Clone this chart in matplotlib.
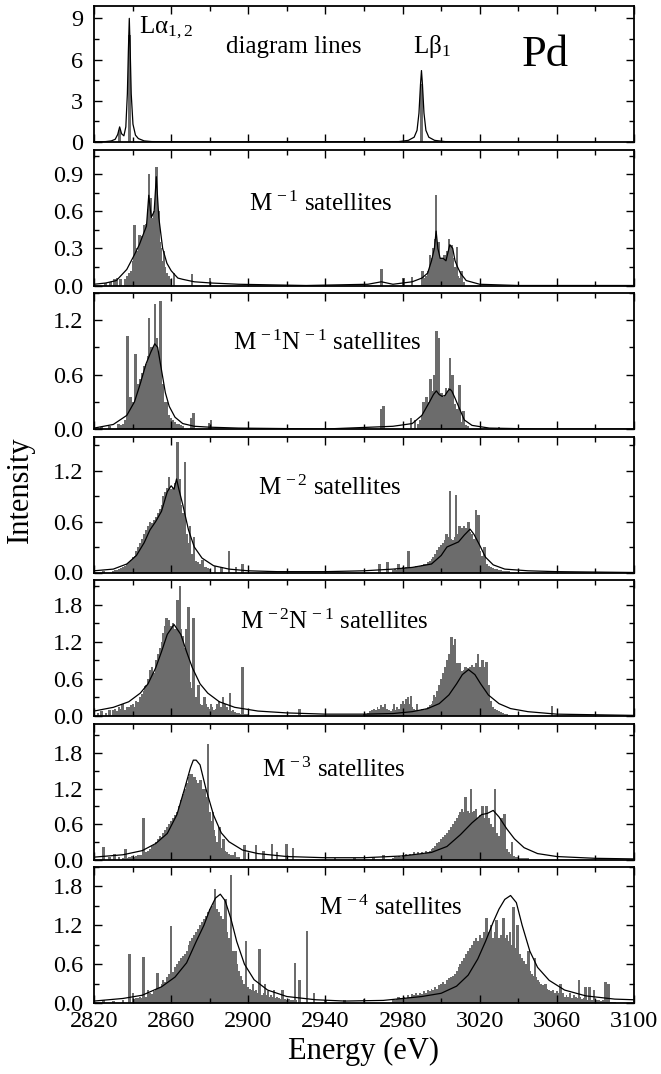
import numpy as np
import matplotlib
matplotlib.use("Agg")
import matplotlib.pyplot as plt
from matplotlib.ticker import MultipleLocator, FormatStrFormatter

plt.rcParams['font.family'] = ['Liberation Serif', 'DejaVu Serif']
plt.rcParams['mathtext.fontset'] = 'custom'
plt.rcParams['mathtext.rm'] = 'Liberation Serif'
plt.rcParams['mathtext.it'] = 'Liberation Serif:italic'

# ---------------- data (energies in eV, intensities arb. units) ----------------
labels = ["Lα$_{1,2}$", r"M$^{\,-1}$ satellites", r"M$^{\,-1}$N$^{\,-1}$ satellites",
          r"M$^{\,-2}$ satellites", r"M$^{\,-2}$N$^{\,-1}$ satellites",
          r"M$^{\,-3}$ satellites", r"M$^{\,-4}$ satellites"]
ylims = [9.9, 1.1, 1.5, 1.6, 2.2, 2.3, 2.1]
ymajor = [3, 0.3, 0.6, 0.6, 0.6, 0.6, 0.6]
xticks_major = [2820, 2860, 2900, 2940, 2980, 3020, 3060, 3100]
xticks_minor = [2840, 2880, 2920, 2960, 3000, 3040, 3080]

# panel 1: diagram lines
p1_stick_e = [2833.3, 2838.3, 2989.8]
p1_stick_h = [0.9, 7.8, 4.2]
p1_env_e = [2820, 2826, 2829, 2831, 2832.3, 2833.3, 2834.3, 2835.5, 2836.5, 2837.3, 2837.8,
            2838.3, 2838.8, 2839.3, 2840.2, 2841.5, 2843, 2846, 2850, 2870, 2978, 2983,
            2986, 2987.5, 2988.5, 2989.3, 2989.8, 2990.3, 2991.1, 2992.1, 2993.6, 2996.6,
            3002, 3020]
p1_env_h = [0.01, 0.03, 0.08, 0.2, 0.55, 1.1, 0.6, 0.45, 1.1, 3.5, 6.5,
            9.0, 6.5, 3.5, 1.3, 0.5, 0.25, 0.08, 0.03, 0.0, 0.03, 0.12,
            0.35, 0.85, 2.1, 4.2, 5.2, 4.2, 2.1, 0.85, 0.35, 0.12,
            0.03, 0.0]

# panel 2: M-1
p2_stick_e = [2826, 2828.5, 2830.5, 2832, 2833.7, 2841, 2843.6, 2846.2, 2848.4, 2849.5,
              2852.3, 2853.4, 2856.2, 2861.5, 2870.8, 2880.2, 2969, 2980.6, 2985, 2990.4,
              2994.1, 2995.9, 2997.4, 2998.5, 3000.2, 3001.8, 3004, 3005.5, 3008.3, 3010.5]
p2_stick_h = [0.02, 0.03, 0.05, 0.06, 0.05, 0.49, 0.41, 0.49, 0.9, 0.71,
              0.96, 0.6, 0.28, 0.1, 0.09, 0.06, 0.13, 0.06, 0.07, 0.12,
              0.25, 0.3, 0.73, 0.35, 0.22, 0.25, 0.38, 0.33, 0.31, 0.12]
p2_dense_l0 = 2836
p2_dense_l = [0.05, 0.08, 0.1, 0.12, 0.2, 0.22, 0.3, 0.28, 0.38, 0.4, 0.45, 0.5, 0.62, 0.5,
              0.55, 0.6, 0.7, 0.5, 0.35, 0.3, 0.2, 0.15, 0.1, 0.08, 0.05]
p2_dense_r0 = 2990
p2_dense_r = [0.04, 0.06, 0.08, 0.12, 0.18, 0.22, 0.3, 0.38, 0.28, 0.2, 0.18, 0.2, 0.22,
              0.28, 0.3, 0.27, 0.22, 0.15, 0.12, 0.08, 0.06, 0.04, 0.03]
p2_env_e = [2820, 2826, 2831.6, 2837, 2841, 2843.5, 2845.7, 2847.2, 2848.4, 2849.7, 2851.2,
            2852.3, 2853.6, 2855.6, 2857.8, 2860, 2861.7, 2863.5, 2866, 2872, 2881, 2895,
            2930, 2962, 2969, 2975, 2985, 2990, 2993, 2995, 2996.5, 2997.4, 2998.3, 2999.5,
            3001, 3002.5, 3004.5, 3006, 3007.2, 3008.5, 3010, 3013, 3020, 3040, 3100]
p2_env_h = [0.01, 0.02, 0.04, 0.13, 0.25, 0.33, 0.42, 0.48, 0.73, 0.55, 0.6,
            0.88, 0.55, 0.3, 0.18, 0.12, 0.09, 0.06, 0.05, 0.03, 0.02, 0.01,
            0.0, 0.01, 0.03, 0.01, 0.03, 0.06, 0.1, 0.2, 0.3, 0.44, 0.3, 0.22,
            0.22, 0.2, 0.33, 0.3, 0.2, 0.15, 0.1, 0.04, 0.01, 0.0, 0.0]

# panel 3: M-1 N-1
p3_stick_e = [2824, 2828, 2832.7, 2837.5, 2838.8, 2841.4, 2843.1, 2848.4, 2849.7, 2851.6,
              2852.7, 2854.5, 2855.6, 2857.8, 2861, 2870.5, 2871.5, 2879.7, 2880.7, 2969,
              2970.1, 2984.3, 2986.5, 2990.9, 2992.4, 2994.6, 2996.3, 2997.6, 2998.5, 3000.2,
              3002.4, 3004.6, 3005.9, 3009.4, 3011.6, 3030]
p3_stick_h = [0.02, 0.03, 0.05, 1.03, 0.35, 0.83, 0.3, 1.22, 0.9, 1.38,
              1.0, 1.41, 0.5, 0.3, 0.1, 0.12, 0.18, 0.07, 0.1, 0.22,
              0.25, 0.12, 0.1, 0.3, 0.35, 0.55, 0.6, 1.08, 1.0, 0.4,
              0.45, 0.78, 0.6, 0.48, 0.2, 0.02]
p3_dense_l0 = 2834
p3_dense_l = [0.04, 0.06, 0.1, 0.14, 0.2, 0.25, 0.3, 0.35, 0.4, 0.5, 0.55, 0.62, 0.7, 0.72,
              0.8, 0.85, 0.88, 0.92, 0.9, 0.85, 0.7, 0.55, 0.4, 0.3, 0.22, 0.15, 0.12, 0.1,
              0.08, 0.06, 0.05, 0.04, 0.03]
p3_dense_r0 = 2988
p3_dense_r = [0.06, 0.1, 0.15, 0.2, 0.25, 0.3, 0.35, 0.38, 0.42, 0.45, 0.4, 0.35, 0.32,
              0.35, 0.38, 0.42, 0.45, 0.4, 0.35, 0.28, 0.22, 0.18, 0.12, 0.08, 0.06, 0.04,
              0.03]
p3_env_e = [2820, 2830, 2837, 2841, 2844, 2847, 2849.5, 2851.5, 2853, 2855, 2857, 2859, 2862,
            2866, 2872, 2880, 2895, 2940, 2975, 2985, 2990, 2994, 2996, 2997.5, 2999, 3000.5,
            3002, 3003.5, 3004.5, 3005.5, 3007, 3009, 3012, 3016, 3025, 3050, 3100]
p3_env_h = [0.01, 0.05, 0.15, 0.3, 0.5, 0.72, 0.85, 0.94, 0.9, 0.65, 0.4, 0.25, 0.13,
            0.06, 0.03, 0.02, 0.01, 0.0, 0.03, 0.06, 0.15, 0.3, 0.38, 0.42, 0.38, 0.36,
            0.37, 0.42, 0.44, 0.42, 0.35, 0.25, 0.1, 0.04, 0.01, 0.0, 0.0]

# panel 4: M-2
p4_stick_e = [2825, 2835, 2846.8, 2849.7, 2852.7, 2858.8, 2861.5, 2863.2, 2864.3, 2867.1,
              2869.7, 2871.9, 2876.3, 2882.8, 2886, 2890, 2893.7, 2897, 2968, 2972.3,
              2977.8, 2983.2, 2987.6, 3002.9, 3004.6, 3007.7, 3009.4, 3014.2, 3018.1, 3019.4,
              3022.5]
p4_stick_h = [0.02, 0.05, 0.3, 0.47, 0.6, 1.12, 1.0, 1.53, 1.1, 1.3,
              0.55, 0.42, 0.15, 0.08, 0.06, 0.25, 0.07, 0.1, 0.1, 0.12,
              0.1, 0.25, 0.05, 0.45, 0.96, 0.91, 0.55, 0.6, 0.73, 0.68,
              0.3]
p4_dense_l0 = 2830
p4_dense_l = [0.02, 0.03, 0.03, 0.04, 0.05, 0.06, 0.08, 0.1, 0.12, 0.15, 0.18, 0.2, 0.25,
              0.3, 0.35, 0.4, 0.45, 0.5, 0.55, 0.6, 0.58, 0.62, 0.65, 0.7, 0.75, 0.8, 0.9,
              0.95, 1.0, 1.02, 0.98, 1.0, 1.05, 0.95, 0.9, 0.8, 0.7, 0.55, 0.45, 0.35, 0.28,
              0.22, 0.18, 0.14, 0.12, 0.1, 0.08, 0.07, 0.06, 0.05, 0.04]
p4_dense_r0 = 2975
p4_dense_r = [0.03, 0.04, 0.03, 0.05, 0.04, 0.06, 0.05, 0.07, 0.06, 0.05, 0.07, 0.06, 0.08,
              0.07, 0.08, 0.09, 0.1, 0.1, 0.12, 0.14, 0.16, 0.18, 0.22, 0.26, 0.3, 0.32,
              0.35, 0.38, 0.4, 0.42, 0.4, 0.38, 0.42, 0.45, 0.48, 0.5, 0.52, 0.55, 0.52,
              0.5, 0.48, 0.45, 0.4, 0.35, 0.3, 0.25, 0.2, 0.16, 0.12, 0.1, 0.08, 0.06, 0.05,
              0.04, 0.04, 0.03, 0.03, 0.02, 0.02, 0.02, 0.02]
p4_env_e = [2820, 2830, 2837, 2842, 2846, 2849, 2852, 2855, 2858, 2860, 2861.5, 2862.8, 2864,
            2866, 2869, 2872, 2876, 2882, 2890, 2900, 2915, 2940, 2960, 2975, 2985, 2995,
            3000, 3003, 3006, 3009, 3012, 3015, 3017, 3020, 3023, 3027, 3033, 3045, 3060,
            3100]
p4_env_h = [0.02, 0.04, 0.1, 0.2, 0.35, 0.5, 0.6, 0.72, 0.95, 1.02, 0.98, 1.1, 0.98,
            0.8, 0.5, 0.3, 0.17, 0.08, 0.04, 0.02, 0.01, 0.01, 0.02, 0.04, 0.06, 0.1,
            0.2, 0.3, 0.33, 0.36, 0.44, 0.51, 0.45, 0.32, 0.18, 0.09, 0.04, 0.02, 0.01,
            0.0]

# panel 5: M-2 N-1
p5_stick_e = [2822, 2824, 2826.1, 2828, 2834.8, 2838.1, 2843.6, 2846.8, 2850.1, 2853.4,
              2857.7, 2861, 2863.2, 2864.7, 2867.6, 2869.1, 2871.5, 2874.1, 2877.4, 2880.7,
              2887.2, 2890.5, 2897, 2926.5, 2965.8, 2970.1, 2975.6, 2980, 2984.3, 2987.6,
              2996.3, 3001.8, 3005.5, 3007.2, 3009.4, 3012.7, 3019.2, 3021.4, 3023.6, 3024.7,
              3057.4]
p5_stick_h = [0.05, 0.08, 0.05, 0.1, 0.2, 0.15, 0.2, 0.48, 0.79, 0.9,
              1.58, 1.5, 1.88, 2.1, 1.4, 1.77, 1.59, 0.5, 0.3, 0.2,
              0.2, 0.38, 0.79, 0.12, 0.1, 0.15, 0.2, 0.15, 0.33, 0.2,
              0.34, 0.7, 1.28, 1.25, 0.85, 0.8, 1.0, 0.9, 0.88, 0.5,
              0.16]
p5_dense_l0 = 2830
p5_dense_l = [0.1, 0.12, 0.08, 0.15, 0.12, 0.2, 0.1, 0.15, 0.12, 0.18, 0.2, 0.15, 0.25,
              0.22, 0.3, 0.35, 0.4, 0.5, 0.6, 0.75, 0.8, 0.7, 0.9, 1.0, 1.1, 1.2, 1.35,
              1.45, 1.5, 1.55, 1.45, 1.5, 1.4, 1.45, 1.5, 1.4, 1.3, 1.1, 0.9, 0.7, 0.55,
              0.45, 0.35, 0.3, 0.25, 0.2, 0.18, 0.15, 0.2, 0.15, 0.12, 0.15, 0.1, 0.12, 0.2,
              0.25, 0.15, 0.3, 0.2, 0.15, 0.1, 0.08, 0.1, 0.06, 0.05, 0.05, 0.04, 0.04,
              0.03, 0.03, 0.03]
p5_dense_r0 = 2960
p5_dense_r = [0.03, 0.04, 0.05, 0.08, 0.1, 0.12, 0.1, 0.15, 0.12, 0.18, 0.15, 0.2, 0.12,
              0.1, 0.08, 0.12, 0.1, 0.15, 0.12, 0.2, 0.25, 0.2, 0.28, 0.3, 0.2, 0.15, 0.12,
              0.1, 0.08, 0.1, 0.12, 0.1, 0.12, 0.15, 0.18, 0.2, 0.25, 0.3, 0.4, 0.5, 0.6,
              0.7, 0.8, 0.9, 1.0, 1.1, 1.15, 1.1, 0.85, 0.75, 0.7, 0.72, 0.75, 0.8, 0.78,
              0.8, 0.82, 0.8, 0.85, 0.82, 0.8, 0.78, 0.8, 0.7, 0.55, 0.4, 0.25, 0.15, 0.12,
              0.1, 0.08, 0.06, 0.05, 0.04, 0.03, 0.02]
p5_env_e = [2820, 2830, 2838, 2844, 2848, 2852, 2855, 2858, 2861.5, 2865, 2868, 2871, 2875,
            2879, 2885, 2893, 2905, 2920, 2940, 2960, 2975, 2985, 2993, 2999, 3004, 3008,
            3011, 3014.2, 3017.5, 3020.5, 3024.5, 3030, 3036, 3045, 3060, 3080, 3100]
p5_env_h = [0.08, 0.14, 0.23, 0.37, 0.52, 0.78, 1.04, 1.32, 1.48, 1.32, 1.04, 0.78, 0.52,
            0.37, 0.23, 0.14, 0.08, 0.05, 0.03, 0.03, 0.04, 0.07, 0.12, 0.2, 0.34, 0.52,
            0.67, 0.75, 0.67, 0.52, 0.34, 0.2, 0.12, 0.07, 0.03, 0.02, 0.01]

# panel 6: M-3
p6_stick_e = [2825, 2828, 2830.5, 2833, 2836.4, 2840, 2845.7, 2854.5, 2859.9, 2865.4,
              2869.8, 2872.4, 2875.2, 2877.4, 2879.1, 2881.8, 2885, 2887.2, 2893, 2898.1,
              2904, 2908, 2912.3, 2915, 2919.9, 2923.2, 2945, 2955, 2965, 2970,
              3002.9, 3009.4, 3012.7, 3015.5, 3018.1, 3021.4, 3023.6, 3027.9, 3031.2, 3032.9,
              3036.7]
p6_stick_h = [0.21, 0.05, 0.1, 0.05, 0.18, 0.06, 0.7, 0.35, 0.6, 0.8,
              1.45, 1.4, 1.35, 1.2, 1.96, 0.8, 0.55, 0.35, 0.12, 0.25,
              0.25, 0.15, 0.27, 0.12, 0.27, 0.2, 0.02, 0.03, 0.05, 0.08,
              0.35, 0.6, 1.05, 1.19, 0.85, 0.9, 0.9, 1.19, 0.7, 0.77,
              0.3]
p6_dense_l0 = 2835
p6_dense_l = [0.03, 0.04, 0.03, 0.05, 0.04, 0.06, 0.05, 0.06, 0.07, 0.08,
              0.08, 0.1, 0.12, 0.15, 0.18, 0.22, 0.25, 0.3, 0.35, 0.4, 0.38, 0.45, 0.5,
              0.55, 0.6, 0.65, 0.7, 0.75, 0.8, 0.9, 1.0, 1.1, 1.2, 1.3, 1.4, 1.45, 1.45,
              1.4, 1.35, 1.3, 1.25, 1.2, 1.1, 1.05, 0.95, 0.8, 0.65, 0.5, 0.4, 0.3, 0.25,
              0.2, 0.18, 0.15, 0.12, 0.1, 0.08, 0.07, 0.06, 0.05, 0.05]
p6_dense_r0 = 2975
p6_dense_r = [0.03, 0.05, 0.04, 0.06, 0.05, 0.08, 0.06, 0.1, 0.08, 0.1, 0.08, 0.12, 0.1,
              0.12, 0.1, 0.12, 0.1, 0.14, 0.12, 0.15, 0.18, 0.2, 0.22, 0.28, 0.3, 0.35,
              0.38, 0.42, 0.45, 0.5, 0.55, 0.6, 0.65, 0.7, 0.75, 0.8, 0.85, 0.8, 0.85,
              0.82, 0.78, 0.8, 0.82, 0.75, 0.7, 0.75, 0.72, 0.7, 0.68, 0.65, 0.7, 0.6, 0.55,
              0.5, 0.45, 0.4, 0.35, 0.28, 0.22, 0.18, 0.12, 0.1, 0.08, 0.06, 0.05, 0.04,
              0.03, 0.03, 0.02, 0.02, 0.02]
p6_env_e = [2820, 2835, 2845, 2852, 2858, 2863, 2867, 2870, 2871.5, 2873, 2875, 2878, 2882,
            2886, 2890, 2897, 2905, 2920, 2940, 2960, 2980, 2995, 3003, 3010, 3016, 3021,
            3024, 3027, 3030, 3034, 3038, 3043, 3050, 3060, 3080, 3100]
p6_env_h = [0.04, 0.08, 0.15, 0.27, 0.44, 0.76, 1.2, 1.55, 1.68, 1.68, 1.6, 1.2, 0.75,
            0.45, 0.3, 0.16, 0.1, 0.05, 0.03, 0.03, 0.06, 0.12, 0.22, 0.42, 0.62, 0.76,
            0.78, 0.83, 0.72, 0.52, 0.35, 0.2, 0.1, 0.05, 0.02, 0.01]

# panel 7: M-4
p7_stick_e = [2825, 2830, 2835, 2838.3, 2840.3, 2845.7, 2847.9, 2853, 2859.9, 2865.4,
              2869.8, 2876.3, 2880.7, 2882.8, 2886.1, 2888.3, 2891.1, 2893.3, 2898.8, 2902.5,
              2905.8, 2908.6, 2913.4, 2917.8, 2924.3, 2926.5, 2930.4, 2934.1, 2940, 2950,
              2960, 2977.8, 2999.6, 3006.2, 3011.6, 3017.1, 3020.3, 3023.6, 3025.8, 3028.6,
              3030.1, 3032.3, 3035.6, 3037.4, 3039.6, 3042.2, 3045.4, 3048.7, 3054.2, 3061.8,
              3071.6, 3074.8, 3077, 3079.3, 3085.3, 3086.8]
p7_stick_h = [0.05, 0.03, 0.04, 0.75, 0.15, 0.71, 0.2, 0.46, 1.19, 0.41,
              0.5, 0.8, 1.1, 1.76, 1.2, 1.6, 1.98, 0.8, 0.95, 0.3,
              0.83, 0.3, 0.2, 0.2, 0.62, 0.35, 1.11, 0.15, 0.05, 0.04,
              0.06, 0.1, 0.28, 0.25, 0.3, 0.5, 1.0, 1.31, 1.2, 1.28,
              0.9, 1.31, 1.1, 1.49, 1.2, 0.65, 0.8, 0.7, 0.3, 0.3,
              0.35, 0.25, 0.25, 0.2, 0.33, 0.3]
p7_dense_l0 = 2840
p7_dense_l = [0.05, 0.06, 0.08, 0.07, 0.1, 0.08, 0.12, 0.1, 0.12, 0.15, 0.14, 0.18, 0.2,
              0.22, 0.25, 0.3, 0.35, 0.32, 0.4, 0.45, 0.5, 0.48, 0.55, 0.6, 0.65, 0.7, 0.72,
              0.75, 0.8, 0.9, 0.95, 1.0, 1.05, 1.1, 1.15, 1.2, 1.25, 1.3, 1.35, 1.4, 1.45,
              1.5, 1.55, 1.5, 1.45, 1.4, 1.35, 1.3, 1.2, 1.1, 1.0, 0.9, 0.8, 0.7, 0.6, 0.5,
              0.42, 0.35, 0.3, 0.28, 0.25, 0.22, 0.2, 0.18, 0.2, 0.15, 0.18, 0.12, 0.15,
              0.12, 0.18, 0.1, 0.12, 0.1, 0.08, 0.1, 0.08, 0.06, 0.08, 0.06, 0.05, 0.06,
              0.05, 0.04, 0.05, 0.04]
p7_dense_r0 = 2975
p7_dense_r = [0.04, 0.05, 0.06, 0.05, 0.08, 0.06, 0.1, 0.08, 0.12, 0.1, 0.14, 0.12, 0.15,
              0.12, 0.16, 0.14, 0.18, 0.15, 0.2, 0.18, 0.22, 0.2, 0.25, 0.22, 0.28, 0.3,
              0.32, 0.3, 0.35, 0.38, 0.4, 0.42, 0.45, 0.5, 0.55, 0.6, 0.65, 0.7, 0.75, 0.8,
              0.85, 0.9, 0.95, 1.0, 0.95, 1.05, 1.0, 1.1, 1.05, 1.0, 1.1, 1.05, 1.0, 1.1,
              0.95, 1.0, 1.05, 0.95, 1.0, 1.05, 0.95, 0.9, 0.95, 0.9, 0.85, 0.8, 0.75, 0.7,
              0.65, 0.6, 0.55, 0.5, 0.45, 0.42, 0.4, 0.35, 0.32, 0.3, 0.28, 0.25, 0.22,
              0.2, 0.18, 0.2, 0.15, 0.18, 0.15, 0.12, 0.15, 0.1, 0.12, 0.1, 0.15, 0.08,
              0.12, 0.1, 0.08, 0.1, 0.06, 0.08, 0.06, 0.05, 0.06, 0.05, 0.04, 0.05, 0.04,
              0.04, 0.03, 0.04, 0.03, 0.03, 0.03, 0.02, 0.02, 0.02]
p7_env_e = [2820, 2835, 2845, 2855, 2862, 2868, 2873, 2877, 2880, 2883, 2885.5, 2888, 2891,
            2894, 2898, 2903, 2910, 2920, 2935, 2950, 2970, 2990, 3000, 3008, 3014, 3019,
            3023, 3027, 3030, 3033, 3036, 3039, 3042, 3046, 3050, 3056, 3064, 3075, 3090,
            3100]
p7_env_h = [0.03, 0.07, 0.12, 0.25, 0.4, 0.62, 0.95, 1.2, 1.44, 1.62, 1.68, 1.58, 1.3,
            0.95, 0.6, 0.36, 0.2, 0.1, 0.05, 0.03, 0.04, 0.1, 0.15, 0.26, 0.43, 0.68,
            0.95, 1.25, 1.45, 1.6, 1.66, 1.55, 1.2, 0.8, 0.55, 0.35, 0.2, 0.11, 0.06,
            0.05]

panels = [
    (p1_stick_e, p1_stick_h, [], p1_env_e, p1_env_h),
    (p2_stick_e, p2_stick_h, [(p2_dense_l0, p2_dense_l), (p2_dense_r0, p2_dense_r)], p2_env_e, p2_env_h),
    (p3_stick_e, p3_stick_h, [(p3_dense_l0, p3_dense_l), (p3_dense_r0, p3_dense_r)], p3_env_e, p3_env_h),
    (p4_stick_e, p4_stick_h, [(p4_dense_l0, p4_dense_l), (p4_dense_r0, p4_dense_r)], p4_env_e, p4_env_h),
    (p5_stick_e, p5_stick_h, [(p5_dense_l0, p5_dense_l), (p5_dense_r0, p5_dense_r)], p5_env_e, p5_env_h),
    (p6_stick_e, p6_stick_h, [(p6_dense_l0, p6_dense_l), (p6_dense_r0, p6_dense_r)], p6_env_e, p6_env_h),
    (p7_stick_e, p7_stick_h, [(p7_dense_l0, p7_dense_l), (p7_dense_r0, p7_dense_r)], p7_env_e, p7_env_h),
]

# label positions in axes fraction
label_pos = [(0.083, 0.84), (0.42, 0.60), (0.432, 0.633), (0.436, 0.625),
             (0.444, 0.69), (0.444, 0.66), (0.549, 0.70)]

gray = '#6c6c6c'
W, H = 661, 1074
fig = plt.figure(figsize=(W / 100, H / 100), dpi=100)

left, right = 94 / W, 634 / W
ph, gap, top0 = 136, 7.5, 6

axes = []
for i, (se, sh, dense, ee, eh) in enumerate(panels):
    top = top0 + i * (ph + gap)
    ax = fig.add_axes([left, 1 - (top + ph) / H, right - left, ph / H])
    axes.append(ax)
    for start, vals in dense:
        x = start + np.arange(len(vals))
        ax.bar(x, vals, width=1.0, color=gray, linewidth=0, align='center')
    ax.bar(se, sh, width=1.3 if i else 1.5, color=gray, linewidth=0)
    ax.plot(ee, eh, color='black', lw=0.9)

    ax.set_xlim(2820, 3100)
    ax.set_ylim(0, ylims[i])
    ax.set_xticks(xticks_major)
    ax.set_xticks(xticks_minor, minor=True)
    ax.yaxis.set_major_locator(MultipleLocator(ymajor[i]))
    ax.yaxis.set_minor_locator(MultipleLocator(ymajor[i] / 2))
    ax.yaxis.set_major_formatter(FormatStrFormatter('%d' if i == 0 else '%.1f'))
    ax.tick_params(which='both', direction='in', top=True, right=True, width=1.0,
                   labelsize=17.5)
    ax.tick_params(axis='y', pad=8)
    ax.tick_params(axis='x', pad=6)
    ax.tick_params(which='major', length=6)
    ax.tick_params(which='minor', length=3.5)
    for s in ax.spines.values():
        s.set_linewidth(1.3)
    if i < 6:
        ax.tick_params(labelbottom=False)

    lx, ly = label_pos[i]
    if i == 0:
        ax.text(lx, ly, labels[0], transform=ax.transAxes, fontsize=18,
                ha='left', va='center')
        ax.text(0.369, 0.70, "diagram lines", transform=ax.transAxes, fontsize=18,
                ha='center', va='center')
        ax.text(0.591, 0.70, "Lβ$_1$", transform=ax.transAxes, fontsize=18,
                ha='left', va='center')
        ax.text(0.836, 0.64, "Pd", transform=ax.transAxes, fontsize=32,
                ha='center', va='center')
    else:
        ax.text(lx, ly, labels[i], transform=ax.transAxes, fontsize=18,
                ha='center', va='center')

axes[-1].set_xlabel("Energy (eV)", fontsize=22, labelpad=3)
fig.text(20 / W, 1 - 490 / H, "Intensity", rotation=90, fontsize=22,
         ha='center', va='center')

fig.savefig("out.png", dpi=100)
